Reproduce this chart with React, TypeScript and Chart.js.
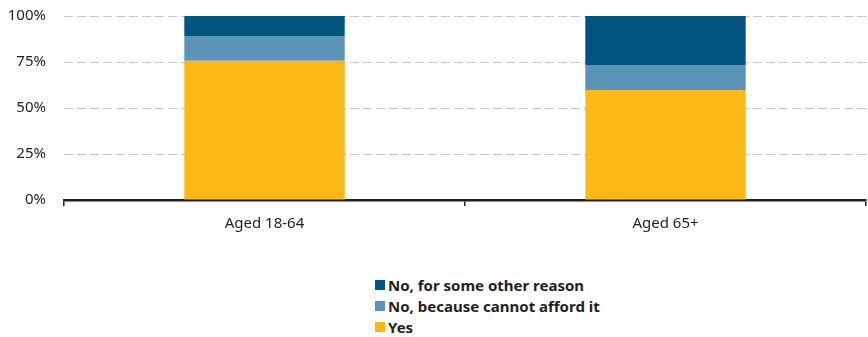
import React, { useEffect, useRef } from "react";
import { Chart, registerables } from "chart.js";

Chart.register(...registerables);

const categories = ["Aged 18-64", "Aged 65+"];
const yesValues = [75.7, 59.8];
const cannotAffordValues = [13.4, 13.6];
const otherReasonValues = [10.9, 26.6];
const yTickValues = [0, 25, 50, 75, 100];

const seriesLabels = ["Yes", "No, because cannot afford it", "No, for some other reason"];
const seriesColors = ["#FBB817", "#5C94B8", "#02557F"];

const FONT = "'Noto Sans', sans-serif";
const TEXT = "#231f20";

export default function App() {
  const canvasRef = useRef<HTMLCanvasElement | null>(null);

  useEffect(() => {
    document.body.style.margin = "0";
    const ctx = canvasRef.current;
    if (!ctx) return;
    const values = [yesValues, cannotAffordValues, otherReasonValues];
    const chart = new Chart(ctx, {
      type: "bar",
      data: {
        labels: categories,
        datasets: values.map((v, i) => ({
          label: seriesLabels[i],
          data: v,
          backgroundColor: seriesColors[i],
          borderWidth: 0,
          barPercentage: 0.8,
          categoryPercentage: 0.5,
        })),
      },
      options: {
        animation: false,
        responsive: false,
        maintainAspectRatio: false,
        layout: { padding: { top: 16, right: 2, bottom: 0, left: 0 } },
        plugins: {
          legend: { display: false },
          tooltip: { enabled: false },
        },
        scales: {
          x: {
            stacked: true,
            afterFit: (s: any) => {
              s.height = 40;
            },
            border: { display: true, color: "#231f20", width: 2.5 },
            grid: {
              display: true,
              offset: true,
              drawOnChartArea: false,
              drawTicks: true,
              tickLength: 6,
              color: "#231f20",
              lineWidth: 1.5,
            },
            ticks: {
              color: TEXT,
              font: { family: FONT, size: 15 },
              padding: 9,
            },
          },
          y: {
            stacked: true,
            min: 0,
            max: 100,
            afterFit: (s: any) => {
              s.width = 64;
              s.paddingTop = 0;
              s.paddingBottom = 0;
            },
            afterBuildTicks: (s: any) => {
              s.ticks = yTickValues.map((v) => ({ value: v }));
            },
            border: { display: false, dash: [9, 4] },
            grid: {
              color: (c: any) => (c.tick && c.tick.value === 0 ? "rgba(0,0,0,0)" : "#c6c6c6"),
              lineWidth: 1,
              drawTicks: false,
            },
            ticks: {
              color: TEXT,
              font: { family: FONT, size: 15 },
              padding: 18,
              callback: (v: any) => v + "%",
            },
          },
        },
      },
    });
    return () => chart.destroy();
  }, []);

  const legendOrder = [2, 1, 0];
  return (
    <div style={{ position: "relative", width: 868, height: 337, background: "#fff" }}>
      <canvas ref={canvasRef} width={868} height={240} style={{ display: "block" }} />
      <div style={{ position: "absolute", left: 375, top: 274 }}>
        {legendOrder.map((i) => (
          <div
            key={i}
            style={{
              display: "flex",
              alignItems: "center",
              height: 21,
              fontFamily: FONT,
              fontWeight: 700,
              fontSize: 15,
              color: TEXT,
              whiteSpace: "nowrap",
            }}
          >
            <span
              style={{
                display: "inline-block",
                width: 10,
                height: 10,
                background: seriesColors[i],
                marginRight: 3,
              }}
            />
            <span>{seriesLabels[i]}</span>
          </div>
        ))}
      </div>
    </div>
  );
}
